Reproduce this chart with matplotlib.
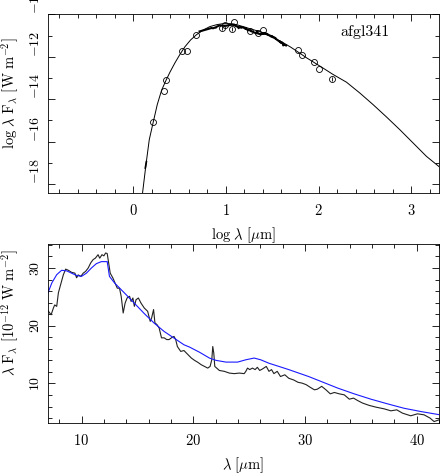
import numpy as np
import matplotlib
matplotlib.use("Agg")
import matplotlib.pyplot as plt
import matplotlib.ticker as mticker

plt.rcParams.update({
    'font.family': 'serif',
    'font.serif': ['cmr10', 'DejaVu Serif'],
    'mathtext.fontset': 'cm',
    'axes.formatter.use_mathtext': True,
    'axes.unicode_minus': True,
    'font.size': 10,
    'axes.labelsize': 10.5,
    'xtick.labelsize': 10.5,
    'ytick.labelsize': 10,
    'axes.linewidth': 0.6,
    'lines.linewidth': 0.7,
})

# --- top panel: SED model (log lambda [um], log lambda F_lambda [W m^-2])
model_logwl = [0.10, 0.137, 0.173, 0.216, 0.259, 0.306, 0.353, 0.396, 0.45, 0.504,
               0.558, 0.619, 0.683, 0.755, 0.827, 0.90, 0.971, 1.043, 1.115, 1.187,
               1.259, 1.33, 1.403, 1.475, 1.547, 1.619, 1.70, 1.80, 1.87, 2.014,
               2.158, 2.301, 2.445, 2.589, 2.733, 2.877, 3.021, 3.165, 3.30]
model_logf = [-18.44, -17.1, -15.91, -15.08, -14.26, -13.58, -13.12, -12.73, -12.29, -11.89,
              -11.53, -11.21, -10.96, -10.74, -10.58, -10.49, -10.44, -10.44, -10.49, -10.58,
              -10.68, -10.77, -10.87, -11.03, -11.18, -11.34, -11.55, -11.84, -12.05, -12.44,
              -12.84, -13.2, -13.71, -14.26, -14.84, -15.44, -16.07, -16.7, -17.18]

# photometry
phot_logwl = [0.216, 0.335, 0.349, 0.525, 0.579, 0.68, 0.957, 0.986, 1.065, 1.083,
              1.255, 1.342, 1.399, 1.78, 1.816, 1.952, 2.003, 2.147]
phot_logf = [-15.08, -13.6, -13.12, -11.73, -11.73, -10.99, -10.66, -10.5, -10.71, -10.35,
             -10.8, -10.87, -10.74, -11.69, -11.94, -12.24, -12.57, -13.04]
phot_err = [0.0, 0.0, 0.0, 0.0, 0.0, 0.0, 0.1, 0.0, 0.1, 0.0,
            0.0, 0.0, 0.0, 0.0, 0.0, 0.0, 0.0, 0.1]

# short near-IR piece
nir_logwl = [0.13, 0.142]
nir_logf = [-17.25, -16.95]

# --- spectrum (lambda [um], lambda F_lambda [1e-12 W m^-2])
spec_wl = [5.2, 5.6, 6.0, 6.5, 7.0, 7.28, 7.49, 7.6, 7.78, 7.93,
           8.17, 8.37, 8.58, 8.82, 9.11, 9.41, 9.56, 9.7, 9.94, 10.15,
           10.36, 10.6, 10.83, 11.04, 11.24, 11.48, 11.63, 11.83, 12.0, 12.16,
           12.3, 12.43, 12.57, 12.8, 13.0, 13.2, 13.4, 13.55, 13.73, 13.9,
           14.08, 14.3, 14.44, 14.6, 14.73, 14.88, 15.09, 15.33, 15.62, 15.92,
           16.15, 16.27, 16.45, 16.57, 16.75, 16.95, 17.16, 17.4, 17.63, 17.84,
           18.05, 18.28, 18.43, 18.58, 18.88, 19.17, 19.53, 19.83, 20.12, 20.42,
           20.71, 21.01, 21.30, 21.51, 21.66, 21.75, 21.84, 21.93, 22.10, 22.34,
           22.78, 23.23, 23.67, 24.12, 24.56, 24.71, 24.86, 25.06, 25.30, 25.54,
           25.74, 25.95, 26.19, 26.54, 26.78, 27.01, 27.22, 27.52, 27.81, 28.20,
           28.55, 29.00, 29.38, 29.74, 30.1, 30.5, 30.85, 31.1, 31.5, 31.88,
           32.27, 32.63, 33.08, 33.52, 33.97, 34.35, 34.71, 35.16, 35.75, 36.35,
           37.1, 37.69, 38.22, 38.73, 39.47, 40.07, 40.66, 41.2, 41.56, 42.0,
           43.0, 44.5]
spec_flux = [15.6, 17.0, 18.6, 20.6, 22.6, 21.9, 23.1, 23.6, 23.35, 25.7,
             27.4, 28.8, 29.8, 29.6, 29.25, 29.1, 28.3, 28.8, 28.55, 29.1,
             29.4, 30.0, 30.9, 31.45, 31.7, 32.3, 31.7, 32.3, 32.1, 32.6,
             32.5, 30.9, 29.1, 28.3, 27.4, 26.5, 26.5, 25.1, 22.2, 23.9,
             24.8, 25.1, 24.2, 24.8, 23.35, 24.5, 24.8, 23.9, 23.06, 22.5,
             20.75, 21.3, 22.8, 20.5, 20.2, 19.6, 17.9, 17.9, 17.6, 17.6,
             17.9, 18.15, 17.6, 16.4, 15.55, 15.7, 15.0, 14.4, 14.0, 13.65,
             13.25, 12.95, 12.66, 12.95, 14.1, 16.4, 15.25, 12.95, 12.66, 12.25,
             12.1, 11.8, 11.7, 11.8, 11.7, 12.1, 12.66, 12.4, 12.66, 12.4,
             12.8, 12.25, 12.5, 12.95, 12.1, 12.4, 11.7, 12.1, 11.2, 11.5,
             10.9, 10.6, 10.2, 10.06, 9.8, 9.3, 8.9, 9.0, 9.5, 8.9,
             8.2, 8.44, 8.2, 8.03, 7.28, 7.46, 7.05, 6.6, 6.2, 5.9,
             5.6, 5.26, 5.43, 4.86, 4.4, 4.74, 4.57, 4.0, 3.4, 3.7,
             3.6, 3.4]

# model in linear units
fit_wl = [7.0, 7.34, 7.78, 8.22, 8.67, 9.11, 9.56, 10.0, 10.44, 10.89,
          11.33, 11.78, 12.3, 12.5, 12.96, 13.85, 14.73, 15.62, 16.5, 17.4,
          18.28, 19.17, 19.67, 20.57, 21.45, 22.04, 22.93, 23.97, 24.71, 25.45,
          26.04, 26.78, 27.67, 28.55, 29.44, 30.33, 31.44, 32.93, 34.41, 35.9,
          37.39, 38.88, 40.37, 42.0]
fit_flux = [25.7, 27.4, 28.84, 29.6, 29.5, 29.1, 28.7, 28.55, 29.1, 30.0,
            30.75, 31.1, 31.1, 28.55, 27.4, 25.66, 23.9, 22.1, 20.46, 19.0,
            17.86, 16.7, 16.3, 15.4, 14.4, 14.0, 13.7, 13.7, 14.1, 14.4,
            14.1, 13.5, 12.95, 12.4, 11.8, 11.2, 10.35, 9.2, 8.2, 7.28,
            6.47, 5.7, 5.14, 4.6]

W, H = 441, 475
fig = plt.figure(figsize=(W / 100, H / 100), dpi=100)
ax1 = fig.add_axes([48 / W, 1 - 193.3 / H, 391 / W, 179 / H])
ax2 = fig.add_axes([48 / W, 1 - 423.3 / H, 391 / W, 179 / H])

# top panel
ax1.plot(model_logwl, model_logf, color='black', lw=0.7)
ax1.plot(np.log10(spec_wl), np.log10(np.array(spec_flux) * 1e-12), color='black', lw=1.5)
ax1.plot(nir_logwl, nir_logf, color='black', lw=1.2)
ax1.errorbar(phot_logwl, phot_logf, yerr=phot_err, fmt='o', mfc='none', mec='black',
             mew=0.6, ms=4.3, ecolor='black', elinewidth=0.6, capsize=0)
ax1.text(0.81, 0.9, 'afgl341', transform=ax1.transAxes, ha='center', va='center', fontsize=11.5)

ax1.set_xlim(-0.92, 3.3)
ax1.set_ylim(-18.44, -10)
ax1.xaxis.set_major_locator(mticker.MultipleLocator(1))
ax1.xaxis.set_minor_locator(mticker.MultipleLocator(0.2))
ax1.yaxis.set_major_locator(mticker.MultipleLocator(2))
ax1.yaxis.set_minor_locator(mticker.MultipleLocator(1))
ax1.set_xlabel(r'$\mathrm{log}\ \lambda\ [\mu\mathrm{m}]$')
ax1.set_ylabel(r'$\mathrm{log}\ \lambda\ \mathrm{F}_\lambda\ [\mathrm{W\ m}^{-2}]$')

# bottom panel
ax2.plot(spec_wl, spec_flux, color='#222222', lw=0.8)
ax2.plot(fit_wl, fit_flux, color='#1a1aff', lw=0.8)
ax2.set_xlim(7, 42)
ax2.set_ylim(3.1, 34.1)
ax2.xaxis.set_major_locator(mticker.MultipleLocator(10))
ax2.xaxis.set_minor_locator(mticker.MultipleLocator(2))
ax2.yaxis.set_major_locator(mticker.MultipleLocator(10))
ax2.yaxis.set_minor_locator(mticker.MultipleLocator(2))
ax2.set_xlabel(r'$\lambda\ [\mu\mathrm{m}]$')
ax2.set_ylabel(r'$\lambda\ \mathrm{F}_\lambda\ [10^{-12}\ \mathrm{W\ m}^{-2}]$')

for ax in (ax1, ax2):
    ax.tick_params(which='both', direction='in', top=True, right=True, width=0.6)
    ax.tick_params(which='major', length=5)
    ax.tick_params(which='minor', length=3)
    ax.tick_params(axis='x', pad=7)
    ax.tick_params(axis='y', labelrotation=90, pad=4)
    ax.xaxis.set_label_coords(0.5, -0.18)

ax1.yaxis.set_label_coords(-0.068, 0.56)
ax2.yaxis.set_label_coords(-0.068, 0.62)

for lab in ax1.get_yticklabels():
    lab.set_va('bottom')
for lab in ax2.get_yticklabels():
    lab.set_va('center')

fig.savefig('out.png', dpi=100)
